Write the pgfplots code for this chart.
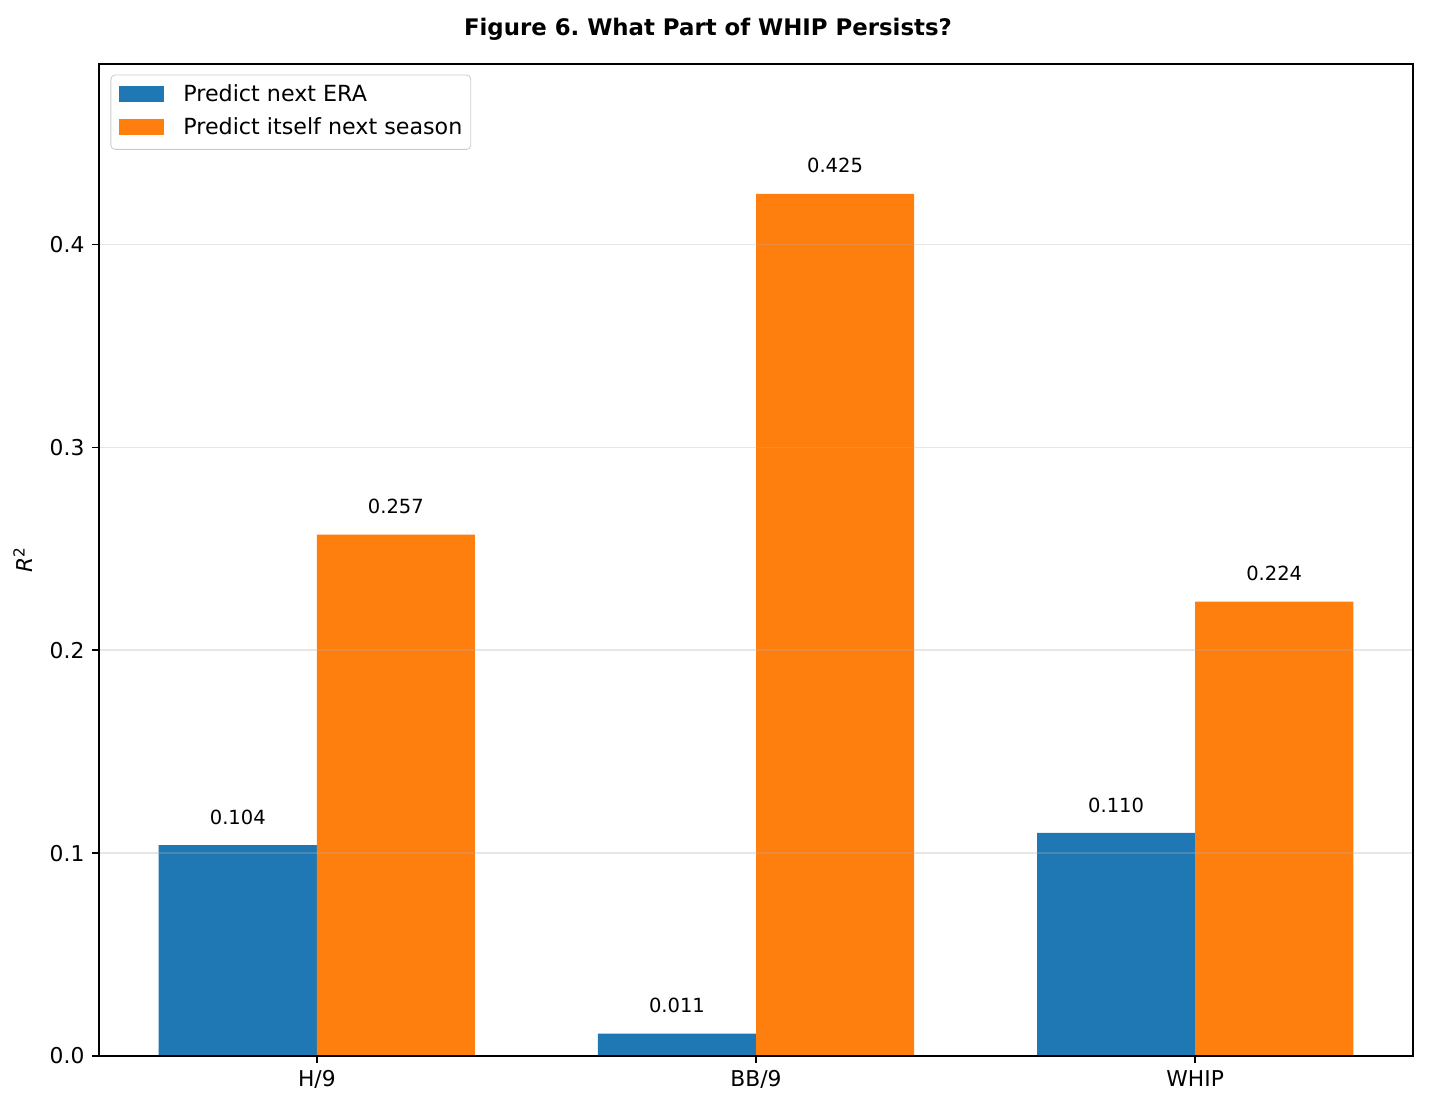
\documentclass[border=0pt]{standalone}
\usepackage{fontspec}
\setmainfont{DejaVu Sans}
\usepackage{pgfplots}
\pgfplotsset{compat=1.18}
\definecolor{mblue}{HTML}{1F77B4}
\definecolor{morange}{HTML}{FF7F0E}
\definecolor{gridc}{HTML}{B0B0B0}
\definecolor{legc}{HTML}{CCCCCC}
\frenchspacing
\begin{document}
\begin{tikzpicture}
\path[use as bounding box] (-47.52bp,-26.4bp) rectangle (638.4bp,506.88bp);
\begin{axis}[
  at={(0,0)}, anchor=south west,
  scale only axis, width=630.72bp, height=476.16bp,
  xmin=-0.496, xmax=2.496, ymin=0, ymax=0.489,
  xtick={0,1,2}, xticklabels={H/9,BB/9,WHIP},
  ytick={0,0.1,0.2,0.3,0.4},
  yticklabel style={/pgf/number format/.cd,fixed,fixed zerofill,precision=1},
  /pgf/number format/assume math mode=true,
  tick label style={font=\fontsize{10.5}{12.5}\selectfont},
  xtick pos=left, ytick pos=left,
  tick align=outside, major tick length=3.5bp,
  tick style={black, line width=0.8bp},
  axis line style={line width=0.8bp},
  ymajorgrids,
  major grid style={draw=gridc, opacity=0.3, line width=0.8bp},
  axis on top,
  ybar, bar width=0.36,
  nodes near coords={\pgfmathprintnumber[fixed,fixed zerofill,precision=3]{\pgfplotspointmeta}},
  every node near coord/.append style={font=\fontsize{9.4}{11}\selectfont, anchor=base, yshift=10bp, black},
  legend style={at={(0,1)}, anchor=north west, xshift=5.5bp, yshift=-5.1bp,
    draw=legc, rounded corners=2bp, fill=white, fill opacity=0.8, text opacity=1,
    font=\fontsize{10.7}{12.5}\selectfont, inner xsep=4bp, inner ysep=4.75bp,
    nodes={inner sep=0bp, text height=8bp, text depth=2.5bp},
    row sep=5.2bp, column sep=9.1bp},
  legend cell align=left,
]
\addplot[ybar, bar shift=-0.18, fill=mblue, draw=none,
  legend image code/.code={\fill[mblue, sharp corners, fill opacity=1] (0bp,-2.9bp) rectangle (21.7bp,4.6bp);}]
  coordinates {(0,0.104) (1,0.011) (2,0.110)};
\addlegendentry{Predict next ERA}
\addplot[ybar, bar shift=0.18, fill=morange, draw=none,
  legend image code/.code={\fill[morange, sharp corners, fill opacity=1] (0bp,-2.9bp) rectangle (21.7bp,4.6bp);}]
  coordinates {(0,0.257) (1,0.425) (2,0.224)};
\addlegendentry{Predict itself next season}
\end{axis}
\node[anchor=base, font=\fontsize{11}{13}\selectfont\bfseries] at (292.3bp,489.9bp) {Figure 6. What Part of WHIP Persists?};
\node[anchor=base, rotate=90, font=\fontsize{10.5}{12.5}\selectfont] at (-31.7bp,238.08bp) {\textit{R}\textsuperscript{2}};
\end{tikzpicture}
\end{document}
